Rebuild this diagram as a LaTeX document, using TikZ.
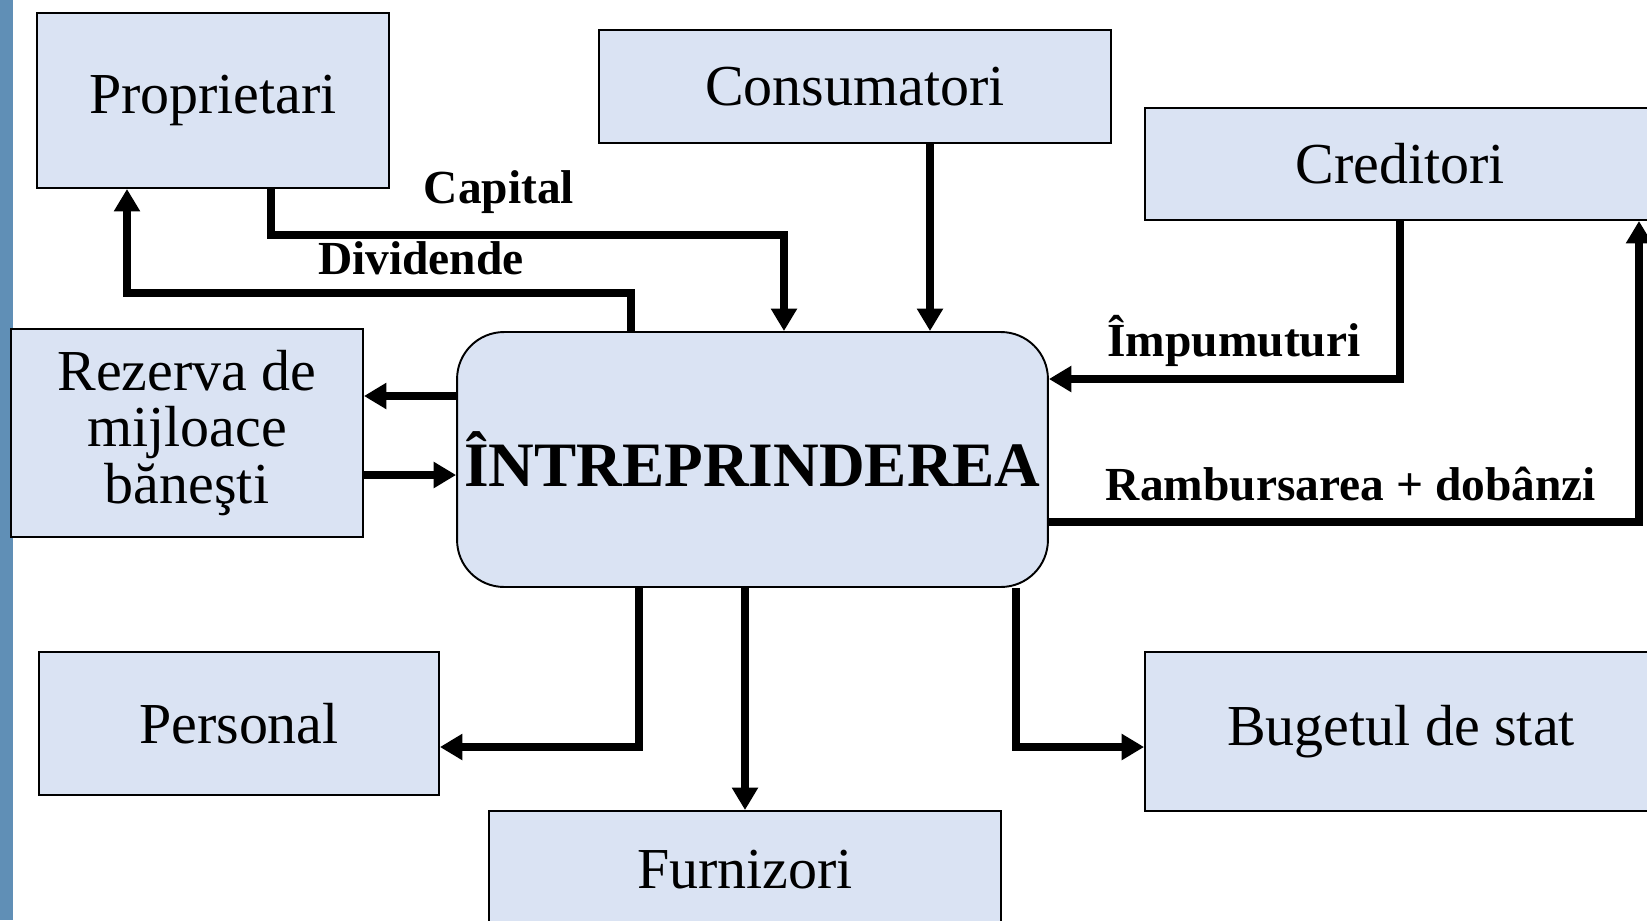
\documentclass[tikz,border=0pt]{standalone}
\usepackage{fontspec}
\setmainfont{Liberation Serif}
\usetikzlibrary{arrows.meta}

\definecolor{boxblue}{RGB}{218,227,243}
\definecolor{stripeblue}{RGB}{96,143,182}

\tikzset{
  entity/.style={draw=black,fill=boxblue,line width=1.1pt,inner sep=0pt,align=center,font=\fontsize{33}{32}\selectfont},
  flow/.style={-{Triangle[width=0.5cm,length=0.45cm]},draw=black,line width=4.1pt},
  flowlabel/.style={font=\bfseries\fontsize{27}{30}\selectfont}
}

\begin{document}
\begin{tikzpicture}[x=0.02cm,y=-0.02cm]

\useasboundingbox (0,0) rectangle (1647,920);
\clip (0,0) rectangle (1647,920);
\fill[stripeblue] (0,0) rectangle (13,920);

\node[entity,minimum width=7.04cm,minimum height=3.5cm](proprietari) at (213,100.5) {Proprietari};
\node[entity,minimum width=10.24cm,minimum height=2.26cm](consumatori) at (855,86.5) {Consumatori};
\node[entity,minimum width=10.2cm,minimum height=2.24cm](creditori) at (1400,164) {Creditori};

\node[entity,minimum width=7.04cm,minimum height=4.16cm](rezerva) at (187,433) {Rezerva de\\mijloace\\băneşti};
\node[entity,rounded corners=0.94cm,minimum width=11.82cm,minimum height=5.1cm,font=\bfseries\fontsize{36}{40}\selectfont](intreprinderea) at (752.5,459.5) {ÎNTREPRINDEREA};

\node[entity,minimum width=8cm,minimum height=2.86cm](personal) at (239,723.5) {Personal};
\node[entity,minimum width=10.24cm,minimum height=2.36cm](furnizori) at (745,870) {Furnizori};
\node[entity,minimum width=10.24cm,minimum height=3.18cm](bugetul) at (1401,731.5) {Bugetul de stat};

\node[flowlabel](capital) at (499,192) {Capital};
\node[flowlabel](dividende) at (421,258) {Dividende};
\node[flowlabel](imprumuturi) at (1234,341) {Împumuturi};
\node[flowlabel](rambursarea) at (1351,484) {Rambursarea + dobânzi};

\draw[flow] (proprietari.south -| 271,0) |- (784,235) -- (784,235 |- intreprinderea.north);
\draw[flow] (intreprinderea.north -| 631,0) |- (127,293) -- (127,293 |- proprietari.south);
\draw[flow] (consumatori.south -| 930,0) -- (intreprinderea.north -| 930,0);

\draw[flow] (creditori.south -| 1400,0) |- (intreprinderea.east |- 0,379);
\draw[flow] (intreprinderea.east |- 0,522) -| (creditori.south -| 1639,0);

\draw[flow] (intreprinderea.west |- 0,396) -- (rezerva.east |- 0,396);
\draw[flow] (rezerva.east |- 0,475) -- (intreprinderea.west |- 0,475);

\draw[flow] (intreprinderea.south -| 639,0) |- (personal.east |- 0,747);
\draw[flow] (intreprinderea.south -| furnizori.north) -- (furnizori.north);
\draw[flow] (intreprinderea.south -| 1016,0) |- (bugetul.west |- 0,747);

\end{tikzpicture}
\end{document}
